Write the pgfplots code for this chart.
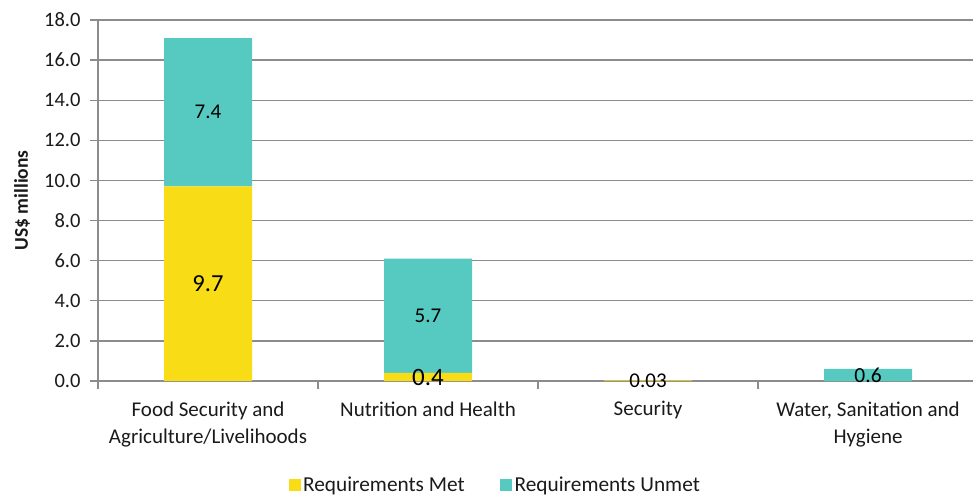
\documentclass[border=0pt]{standalone}
\usepackage{pgfplots}
\pgfplotsset{compat=1.18}
\usepackage{pgfplotstable}
\usepackage{fontspec}
\setmainfont{Carlito}
\definecolor{metc}{HTML}{F8DC15}
\definecolor{unmetc}{HTML}{56CAC0}
\definecolor{gridc}{HTML}{8C8C8C}
\definecolor{txtc}{HTML}{1A1A1A}

\pgfplotstableread{
x y label fs
0 9.7 9.7 24.5
1 0.4 0.4 25
2 0.03 0.03 21
3 0 {} 20
}\metdata
\pgfplotstableread{
x y label fs
0 7.4 7.4 21
1 5.7 5.7 21
2 0 {} 20
3 0.6 0.6 21.5
}\unmetdata

\begin{document}
\begin{tikzpicture}
\begin{axis}[
  at={(0,0)}, anchor=south west,
  scale only axis, width=875bp, height=361bp,
  ybar stacked, bar width=88bp,
  xmin=-0.5, xmax=3.477, ymin=0, ymax=18,
  ytick={0,2,...,18},
  /pgf/number format/assume math mode=true,
  y tick label style={/pgf/number format/fixed, /pgf/number format/fixed zerofill, /pgf/number format/precision=1,
    font=\fontsize{20.5bp}{24bp}\selectfont, text=txtc, xshift=-6bp},
  xtick={-0.5,0.5,1.5,2.5}, xticklabels={},
  extra x ticks={0,1,2,3},
  extra x tick labels={{Food Security and\\Agriculture/Livelihoods}, {Nutrition and Health}, {Security}, {Water, Sanitation and\\Hygiene}},
  extra x tick style={major tick length=0pt, grid=none,
    tick label style={align=center, font=\fontsize{21bp}{27bp}\selectfont, text=txtc, yshift=-17bp}},
  axis x line*=bottom, axis y line*=left,
  axis line style={gridc, line width=1.3bp},
  tick style={gridc, line width=1.3bp},
  major tick length=8bp, tick align=outside,
  ymajorgrids, grid style={gridc, line width=1.3bp},
  ylabel={US\$ millions},
  ylabel style={at={(axis description cs:-0.0869,0.5)}, anchor=center, font=\bfseries\fontsize{19.5bp}{22bp}\selectfont, text=txtc},
  legend style={at={(0.4543,-0.288)}, anchor=center, draw=none, fill=none, legend columns=2,
    font=\fontsize{21.3bp}{24bp}\selectfont, text=txtc,
    nodes={inner sep=2.5bp},
    /tikz/every even column/.append style={column sep=33bp}},
  legend image code/.code={\fill[#1] (0bp,-6bp) rectangle (12bp,6bp);},
  nodes near coords,
  point meta=explicit symbolic,
  visualization depends on={\thisrow{fs}\as\lblfs},
  every node near coord/.append style={anchor=center, text=black,
    font=\fontsize{\lblfs bp}{\lblfs bp}\selectfont},
]
\addplot[fill=metc, draw=none] table[x=x, y=y, meta=label]{\metdata};
\addlegendentry{Requirements Met}
\addplot[fill=unmetc, draw=none] table[x=x, y=y, meta=label]{\unmetdata};
\addlegendentry{Requirements Unmet}
\end{axis}
\pgfresetboundingbox
\path (-98bp,-114bp) rectangle (875bp,381bp);
\end{tikzpicture}
\end{document}
